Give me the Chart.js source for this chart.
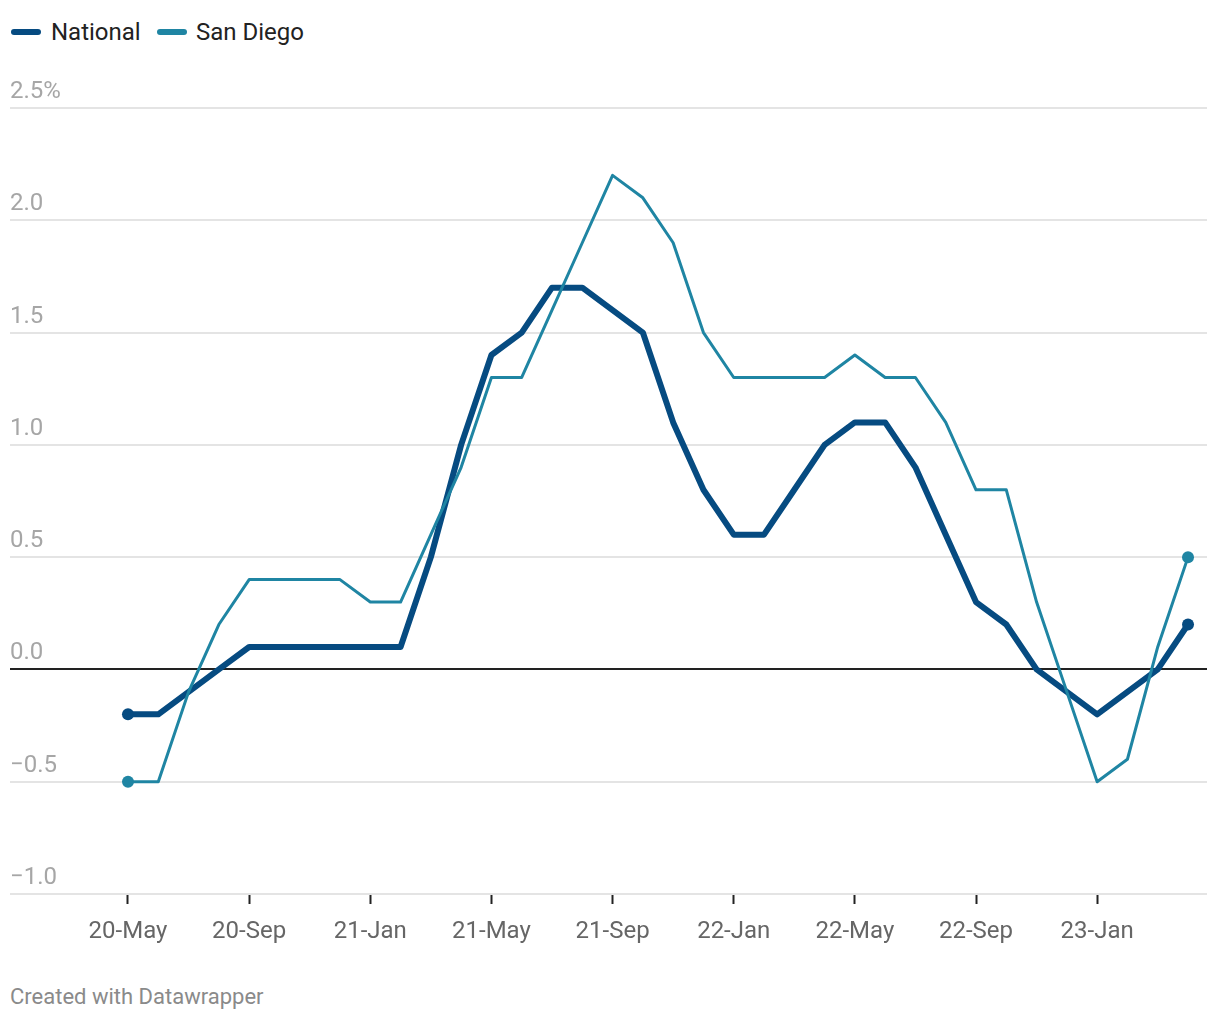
<!DOCTYPE html>
<html>
<head>
<meta charset="utf-8">
<script src="https://cdn.jsdelivr.net/npm/chart.js@4/dist/chart.umd.min.js"></script>
<style>
  html, body { margin: 0; padding: 0; background: #fff; }
  body { width: 1220px; height: 1020px; position: relative; overflow: hidden; font-family: Roboto, "Noto Sans", sans-serif; }
  .legend { position: absolute; top: 14px; left: 0; height: 36px; }
  .sw { position: absolute; top: 15px; height: 6px; width: 30px; border-radius: 3px; }
  .lt { position: absolute; top: 0; line-height: 36px; font-size: 24px; color: #222; white-space: nowrap; }
  #wrap { position: absolute; left: 0; top: 61px; width: 1220px; height: 900px; }
  .foot { position: absolute; left: 10px; top: 983px; font-size: 22px; line-height: 28px; color: #8a8a8a; }
</style>
</head>
<body>
<div class="legend">
  <span class="sw" style="left:11px;background:#064b81"></span><span class="lt" style="left:51px">National</span>
  <span class="sw" style="left:157px;background:#1f85a3"></span><span class="lt" style="left:196px">San Diego</span>
</div>
<div id="wrap"><canvas id="c"></canvas></div>
<div class="foot">Created with Datawrapper</div>
<script>
// Months: 2020-May .. 2023-Apr
const months = ["20-May","20-Jun","20-Jul","20-Aug","20-Sep","20-Oct","20-Nov","20-Dec",
  "21-Jan","21-Feb","21-Mar","21-Apr","21-May","21-Jun","21-Jul","21-Aug","21-Sep","21-Oct","21-Nov","21-Dec",
  "22-Jan","22-Feb","22-Mar","22-Apr","22-May","22-Jun","22-Jul","22-Aug","22-Sep","22-Oct","22-Nov","22-Dec",
  "23-Jan","23-Feb","23-Mar","23-Apr"];
const national = [-0.2,-0.2,-0.1,0.0,0.1,0.1,0.1,0.1,0.1,0.1,0.5,1.0,1.4,1.5,1.7,1.7,1.6,1.5,1.1,0.8,
  0.6,0.6,0.8,1.0,1.1,1.1,0.9,0.6,0.3,0.2,0.0,-0.1,-0.2,-0.1,0.0,0.2];
const sanDiego = [-0.5,-0.5,-0.1,0.2,0.4,0.4,0.4,0.4,0.3,0.3,0.6,0.9,1.3,1.3,1.6,1.9,2.2,2.1,1.9,1.5,
  1.3,1.3,1.3,1.3,1.4,1.3,1.3,1.1,0.8,0.8,0.3,-0.1,-0.5,-0.4,0.1,0.5];
const xTickLabels = ["20-May","20-Sep","21-Jan","21-May","21-Sep","22-Jan","22-May","22-Sep","23-Jan"];
const yTickValues = [-1.0,-0.5,0.0,0.5,1.0,1.5,2.0,2.5];
const yTickLabels = ["\u22121.0","\u22120.5","0.0","0.5","1.0","1.5","2.0","2.5%"];

const xTickIdx = xTickLabels.map(l => months.indexOf(l));
const toPts = arr => arr.map((v, i) => ({ x: i, y: v }));
const last = months.length - 1;
const endDots = r => ctx => (ctx.dataIndex === 0 || ctx.dataIndex === last) ? r : 0;

new Chart(document.getElementById('c'), {
  type: 'line',
  data: {
    datasets: [
      { label: 'National', data: toPts(national), borderColor: '#064b81', backgroundColor: '#064b81',
        borderWidth: 6, pointRadius: endDots(6), pointHoverRadius: 0, pointBorderWidth: 0,
        borderJoinStyle: 'round', borderCapStyle: 'round', tension: 0, order: 1 },
      { label: 'San Diego', data: toPts(sanDiego), borderColor: '#1f85a3', backgroundColor: '#1f85a3',
        borderWidth: 3, pointRadius: endDots(6), pointHoverRadius: 0, pointBorderWidth: 0,
        borderJoinStyle: 'round', borderCapStyle: 'round', tension: 0, order: 0 }
    ]
  },
  options: {
    responsive: true, maintainAspectRatio: false, animation: false,
    events: [],
    layout: { padding: { left: 10, right: 13, top: 47, bottom: 0 } },
    plugins: { legend: { display: false }, tooltip: { enabled: false } },
    scales: {
      x: {
        type: 'linear', min: -3.896, max: 35.627,
        afterBuildTicks: s => { s.ticks = xTickIdx.map(v => ({ value: v })); },
        afterFit: s => { s.height = 67; },
        border: { display: false },
        grid: { drawOnChartArea: false, drawTicks: true, tickLength: 10, tickColor: '#222', tickWidth: 2 },
        ticks: {
          autoSkip: false, maxRotation: 0, padding: 14, color: '#666',
          font: { family: 'Roboto', size: 24 },
          callback: v => { const k = xTickIdx.indexOf(v); return k >= 0 ? xTickLabels[k] : ''; }
        }
      },
      y: {
        min: -1.0, max: 2.5,
        afterBuildTicks: s => { s.ticks = yTickValues.map(v => ({ value: v })); },
        afterFit: s => { s.width = 0; },
        border: { display: false },
        grid: {
          drawTicks: false,
          color: ctx => (ctx.tick && ctx.tick.value === 0) ? '#222' : '#e4e4e4',
          lineWidth: 2
        },
        ticks: {
          mirror: true, padding: 0, labelOffset: -16, color: '#a6a6a6',
          font: { family: 'Roboto', size: 24 },
          callback: v => { const k = yTickValues.indexOf(v); return k >= 0 ? yTickLabels[k] : ''; }
        }
      }
    }
  }
});
</script>
</body>
</html>
